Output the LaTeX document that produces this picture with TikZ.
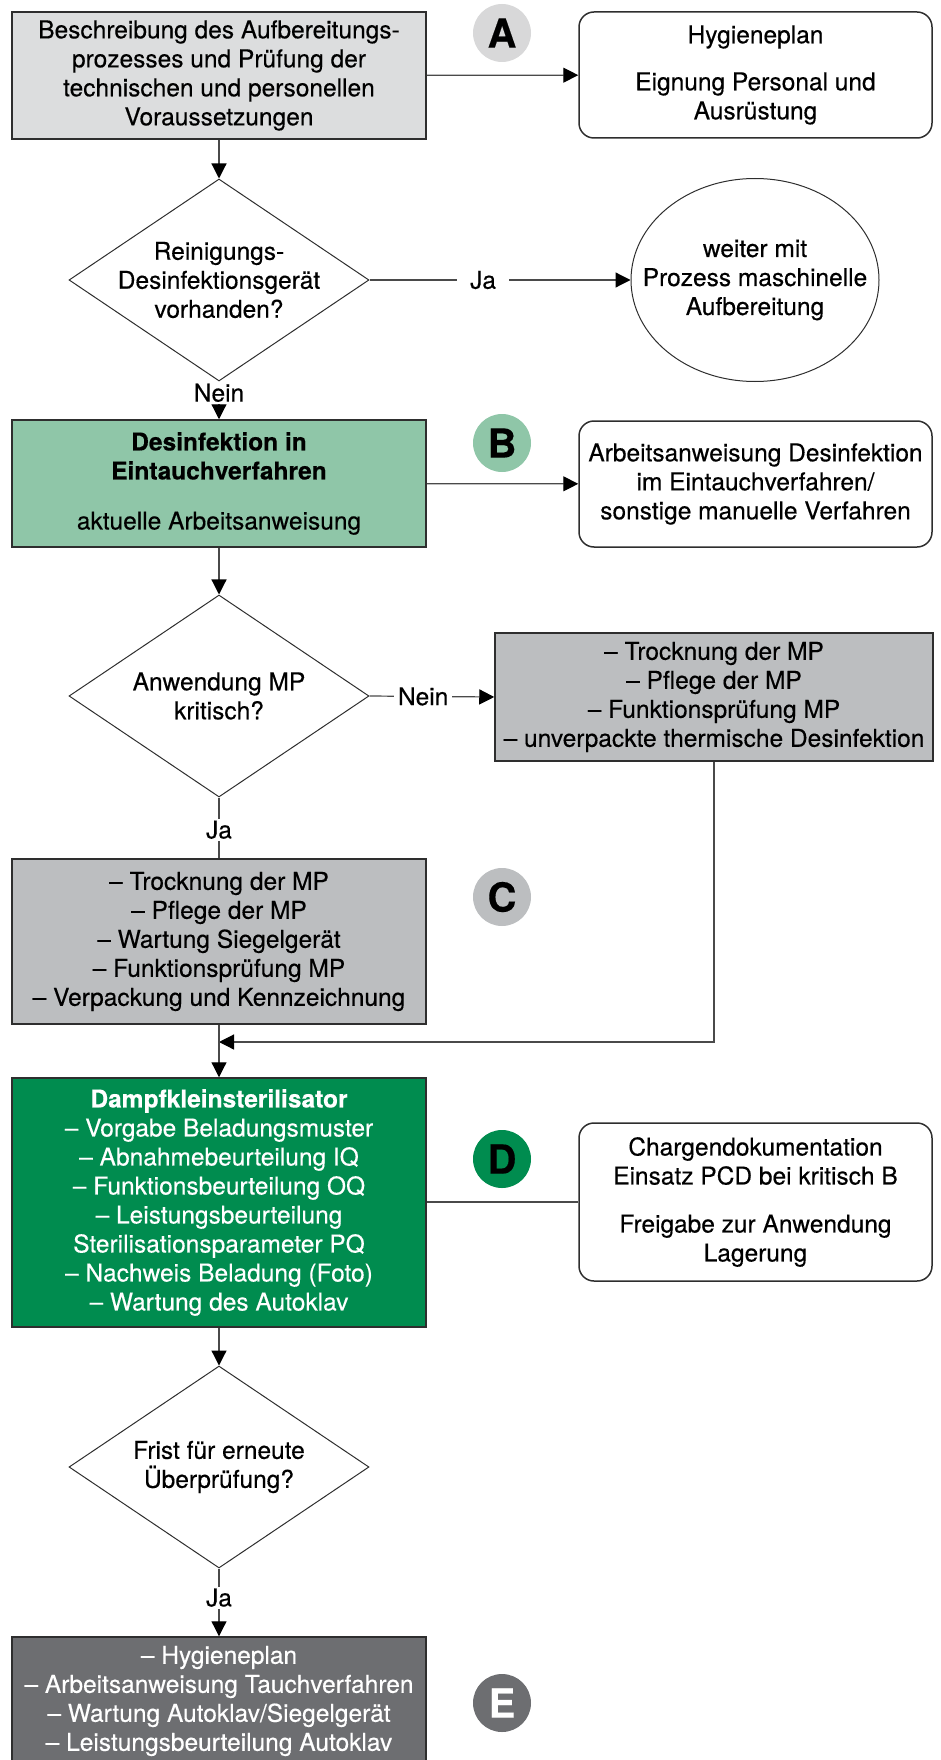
\documentclass[tikz,border=0pt]{standalone}
\usepackage{fontspec}
\setmainfont{TeX Gyre Heros}[FakeBold=0.35]
\usepackage{tikz}
\usetikzlibrary{shapes.geometric, arrows.meta}
\definecolor{lgray}{HTML}{DCDDDE}
\definecolor{cgray}{HTML}{D8D8D9}
\definecolor{mgray}{HTML}{BCBEC0}
\definecolor{dgray}{HTML}{6D6E71}
\definecolor{lgreen}{HTML}{8FC6A8}
\definecolor{dgreen}{HTML}{008C4F}
\definecolor{boxline}{HTML}{2E2E2E}
\definecolor{conn}{HTML}{4A4A4A}
\tikzset{
  txt/.style={font=\fontsize{24.5}{29}\selectfont, align=center},
  box/.style={txt, draw=boxline, line width=1.5pt, minimum width=414pt, inner sep=0pt},
  rbox/.style={txt, draw=boxline, line width=1.5pt, rounded corners=15pt, minimum width=353pt, inner sep=0pt},
  dia/.style={diamond, draw=boxline, line width=1pt, minimum width=300pt, minimum height=202pt, inner sep=0pt},
  badge/.style={circle, minimum size=58pt, inner sep=0pt, font=\fontsize{40}{40}\selectfont\bfseries},
  arr/.style={draw=conn, line width=1.2pt, -{Triangle[length=15pt,width=15pt,fill=black,color=black]}},
  con/.style={draw=conn, line width=1.2pt},
  lbl/.style={txt, fill=white, inner xsep=4pt, inner ysep=2pt}
}

\begin{document}
\begin{tikzpicture}[x=1pt, y=-1pt]
\useasboundingbox (0,0) rectangle (941,1760);
% main column
\node[box, fill=lgray, minimum height=127pt] (a) at (219,75.5)
  {Beschreibung des Aufbereitungs-\\prozesses und Prüfung der\\technischen und personellen\\Voraussetzungen};
\node[dia] (q1) at (219,280) {};
\node[txt] (q1t) at (q1) {Reinigungs-\\Desinfektionsgerät\\vorhanden?};
\node[box, fill=lgreen, minimum height=127pt] (b) at (219,483.5)
  {\textbf{Desinfektion in}\\\textbf{Eintauchverfahren}\\[21pt]aktuelle Arbeitsanweisung};
\node[dia] (q2) at (219,696) {};
\node[txt] (q2t) at (q2) {Anwendung MP\\kritisch?};
\node[box, fill=mgray, minimum height=165pt] (c) at (219,941.5)
  {– Trocknung der MP\\– Pflege der MP\\– Wartung Siegelgerät\\– Funktionsprüfung MP\\– Verpackung und Kennzeichnung};
\node[box, fill=dgreen, text=white, minimum height=249pt] (d) at (219,1202.5)
  {\textbf{Dampfkleinsterilisator}\\– Vorgabe Beladungsmuster\\– Abnahmebeurteilung IQ\\– Funktionsbeurteilung OQ\\– Leistungsbeurteilung\\Sterilisationsparameter PQ\\– Nachweis Beladung (Foto)\\– Wartung des Autoklav};
\node[dia] (q3) at (219,1467) {};
\node[txt] (q3t) at (q3) {Frist für erneute\\Überprüfung?};
\node[box, fill=dgray, text=white, minimum height=128pt] (e) at (219,1701)
  {– Hygieneplan\\– Arbeitsanweisung Tauchverfahren\\– Wartung Autoklav/Siegelgerät\\– Leistungsbeurteilung Autoklav};
% right column
\node[rbox, minimum height=126pt] (ha) at (755.5,75)
  {Hygieneplan\\[18pt]Eignung Personal und\\Ausrüstung};
\node[ellipse, draw=boxline, line width=1pt, minimum width=248pt, minimum height=203pt] (m) at (755,280) {};
\node[txt] (mt) at (m) {weiter mit\\Prozess maschinelle\\Aufbereitung};
\node[rbox, minimum height=126pt] (hb) at (755.5,484)
  {Arbeitsanweisung Desinfektion\\im Eintauchverfahren/\\sonstige manuelle Verfahren};
\node[box, fill=mgray, minimum width=438pt, minimum height=128pt] (g) at (714,697)
  {– Trocknung der MP\\– Pflege der MP\\– Funktionsprüfung MP\\– unverpackte thermische Desinfektion};
\node[rbox, minimum height=158pt] (hd) at (755.5,1202)
  {Chargendokumentation\\Einsatz PCD bei kritisch B\\[19pt]Freigabe zur Anwendung\\Lagerung};
% letter marks
\foreach \l/\y/\c/\t in {A/33/cgray/black, B/443/lgreen/black, C/897/mgray/black, D/1159/dgreen/black, E/1703/dgray/white}
  \node[badge, fill=\c, text=\t] (l\l) at (502,\y) {\l};
% connectors
\coordinate (merge) at (219,1042);
\draw[arr] (a) -- (ha);
\draw[arr] (a) -- (q1);
\draw[arr] (q1.east) -- node[lbl, pos=0.435, inner xsep=13pt]{Ja} (m.west);
\draw[arr] (q1.south) -- node[lbl, pos=0.3]{Nein} (b.north);
\draw[arr] (b) -- (hb);
\draw[arr] (b) -- (q2);
\draw[arr] (q2.east) -- node[lbl, pos=0.43]{Nein} (g.west);
\draw[con] (q2.south) -- node[lbl, pos=0.53]{Ja} (c.north);
\draw[arr] (g.south) |- (merge);
\draw[arr] (c) -- (d);
\draw[con] (d.east |- hd.west) -- (hd.west);
\draw[arr] (d) -- (q3);
\draw[arr] (q3.south) -- node[lbl, pos=0.43]{Ja} (e.north);
\end{tikzpicture}
\end{document}
